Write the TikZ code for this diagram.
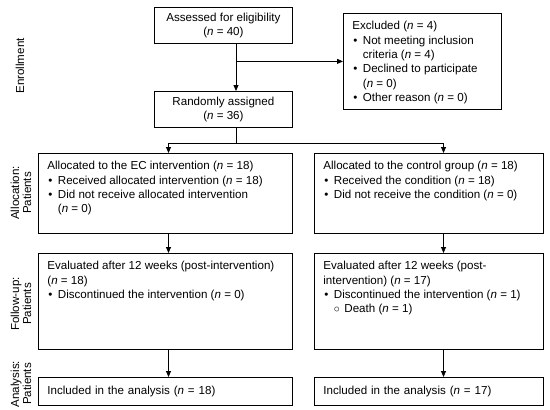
\documentclass[tikz,border=0pt]{standalone}
\usepackage{fontspec}
\setmainfont{Liberation Sans}
\usetikzlibrary{arrows.meta}
\newcommand{\fs}{\fontsize{11.6}{14.3}\selectfont}
\newcommand{\bul}{\makebox[10.5pt][l]{\hspace{1pt}\textbullet}}
\newcommand{\ind}{\hspace*{10.5pt}}
\newcommand{\nn}{\textit{n}}
\newcommand{\topbox}[3]{\parbox[c][#2][t]{#1}{\raggedright #3}}
\begin{document}
\begin{tikzpicture}[x=1pt,y=-1pt,
  box/.style={draw, line width=0.8pt, inner xsep=9pt, inner ysep=8pt, anchor=north west, font=\fs},
  cbox/.style={draw, line width=0.8pt, inner sep=0pt, anchor=north west, minimum width=138pt, minimum height=36pt, align=center, font=\fs},
  abox/.style={draw, line width=0.8pt, inner xsep=9pt, inner ysep=0pt, anchor=north west, minimum height=28pt, align=left, font=\fs},
  side/.style={rotate=90, align=center, font=\fontsize{11.6}{12}\selectfont},
  conn/.style={line width=0.8pt},
  arr/.style={conn, -{Triangle[length=6pt,width=5pt]}}]
\useasboundingbox (0,0) rectangle (550,410);
% columns
\coordinate (mx) at (236,0);
\coordinate (lx) at (168.5,0);
\coordinate (rx) at (443.5,0);
\coordinate (split) at (236,143);
% boxes
\node[cbox] (assess) at (154,7) {Assessed for eligibility\\(\nn{} = 40)};
\node[box] (excl) at (343,13) {\topbox{140pt}{80pt}{Excluded (\nn{} = 4)\\
\bul Not meeting inclusion\\
\ind criteria (\nn{} = 4)\\
\bul Declined to participate\\
\ind (\nn{} = 0)\\
\bul Other reason (\nn{} = 0)}};
\node[cbox] (rand) at (154,91) {Randomly assigned\\(\nn{} = 36)};
\node[box] (allocL) at (38,153) {\topbox{236pt}{64pt}{Allocated to the EC intervention (\nn{} = 18)\\
\bul Received allocated intervention (\nn{} = 18)\\
\bul Did not receive allocated intervention\\
\ind (\nn{} = 0)}};
\node[box] (allocR) at (314,153) {\topbox{211pt}{64pt}{Allocated to the control group (\nn{} = 18)\\
\bul Received the condition (\nn{} = 18)\\
\bul Did not receive the condition (\nn{} = 0)}};
\node[box] (follL) at (38,253) {\topbox{236pt}{80pt}{Evaluated after 12 weeks (post-intervention)\\
(\nn{} = 18)\\
\bul Discontinued the intervention (\nn{} = 0)}};
\node[box] (follR) at (314,253) {\topbox{211pt}{80pt}{Evaluated after 12 weeks (post-\\
intervention) (\nn{} = 17)\\
\bul Discontinued the intervention (\nn{} = 1)\\
\ind\makebox[10.5pt][l]{$\circ$}Death (\nn{} = 1)}};
\node[abox, minimum width=254pt, text width=236pt] (anaL) at (38,377) {Included in the analysis (\nn{} = 18)};
\node[abox, minimum width=229pt, text width=211pt] (anaR) at (314,377) {Included in the analysis (\nn{} = 17)};
% side labels
\node[side] (lenr) at (20,66) {Enrollment};
\node[side] (lalloc) at (21,193) {Allocation:\\Patients};
\node[side] (lfoll) at (21,304) {Follow-up:\\Patients};
\node[side] (lana) at (21,384) {Analysis:\\Patients};
% connectors
\draw[arr] (assess.south -| mx) -- (rand.north -| mx);
\draw[arr] (excl.west -| mx) -- (excl.west);
\draw[conn] (rand.south -| mx) -- (split);
\draw[conn] (split -| lx) -- (split -| rx);
\draw[arr] (split -| lx) -- (allocL.north -| lx);
\draw[arr] (split -| rx) -- (allocR.north -| rx);
\draw[arr] (allocL.south -| lx) -- (follL.north -| lx);
\draw[arr] (allocR.south -| rx) -- (follR.north -| rx);
\draw[arr] (follL.south -| lx) -- (anaL.north -| lx);
\draw[arr] (follR.south -| rx) -- (anaR.north -| rx);
\end{tikzpicture}
\end{document}
